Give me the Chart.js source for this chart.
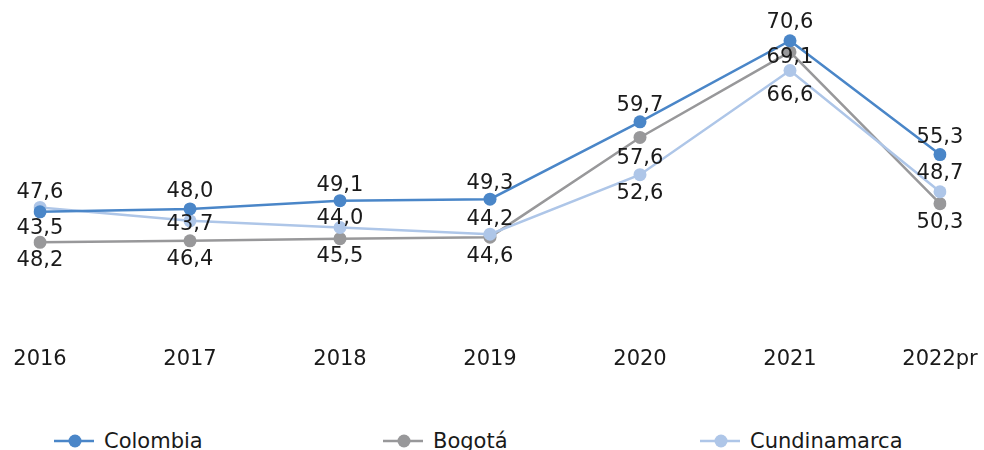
<!DOCTYPE html>
<html>
<head>
<meta charset="utf-8">
<script src="https://cdn.jsdelivr.net/npm/chart.js@4/dist/chart.umd.min.js"></script>
<style>
  html, body { margin: 0; padding: 0; background: #fff; }
  body { width: 984px; height: 450px; position: relative; overflow: hidden; font-family: "DejaVu Sans", sans-serif; }
  #wrap { position: absolute; left: 0; top: 0; width: 984px; height: 400px; }
  .legend-item { position: absolute; top: 428px; height: 26px; display: flex; align-items: center; font-size: 21px; color: #1a1a1a; }
  .legend-item svg { margin-right: 10px; }
</style>
</head>
<body>
<div id="wrap"><canvas id="chart"></canvas></div>
<div id="legend"></div>
<script>
// ---- data ----
const years = ['2016', '2017', '2018', '2019', '2020', '2021', '2022pr'];
const colombia = [47.6, 48.0, 49.1, 49.3, 59.7, 70.6, 55.3];
const bogota = [43.5, 43.7, 44.0, 44.2, 57.6, 69.1, 48.7];
const cundinamarca = [48.2, 46.4, 45.5, 44.6, 52.6, 66.6, 50.3];

const colors = {
  colombia: '#4a86c8',
  bogota: '#98989a',
  cundinamarca: '#aec6e8'
};

// label placement (pixels from the point, negative = above)
const labelShift = [
  [-19, -17, -15, -16, -16, -18, -17],
  [-14, -16, -20, -18, 21, 6, -30],
  [53, 39, 29, 22, 19, 25, 31]
];

const fmt = (v) => v.toFixed(1).replace('.', ',');

const valueLabels = {
  id: 'valueLabels',
  afterDatasetsDraw(chart) {
    const ctx = chart.ctx;
    ctx.save();
    ctx.font = '21px "DejaVu Sans"';
    ctx.fillStyle = '#1a1a1a';
    ctx.textAlign = 'center';
    ctx.textBaseline = 'middle';
    chart.data.datasets.forEach((ds, i) => {
      const meta = chart.getDatasetMeta(i);
      meta.data.forEach((pt, j) => {
        ctx.fillText(fmt(ds.data[j]), pt.x, pt.y + labelShift[i][j]);
      });
    });
    ctx.restore();
  }
};

const series = (label, data, color, order) => ({
  label,
  data,
  borderColor: color,
  backgroundColor: color,
  borderWidth: 2.5,
  pointRadius: 6.5,
  pointBorderWidth: 0,
  pointBackgroundColor: color,
  tension: 0,
  order
});

new Chart(document.getElementById('chart'), {
  type: 'line',
  data: {
    labels: years,
    datasets: [
      series('Colombia', colombia, colors.colombia, 0),
      series('Bogotá', bogota, colors.bogota, 2),
      series('Cundinamarca', cundinamarca, colors.cundinamarca, 1)
    ]
  },
  options: {
    responsive: true,
    maintainAspectRatio: false,
    animation: false,
    layout: { padding: { left: 40, right: 44, top: 8, bottom: 24 } },
    plugins: {
      legend: { display: false },
      tooltip: { enabled: false }
    },
    scales: {
      x: {
        offset: false,
        grid: { display: false, drawTicks: false },
        border: { display: false },
        ticks: { color: '#1a1a1a', padding: 4, maxRotation: 0, font: { family: 'DejaVu Sans', size: 21 } }
      },
      y: {
        display: false,
        min: 30,
        max: 75
      }
    }
  },
  plugins: [valueLabels]
});

// ---- legend ----
const legendItems = [
  { name: 'Colombia', color: colors.colombia, left: 54 },
  { name: 'Bogotá', color: colors.bogota, left: 383 },
  { name: 'Cundinamarca', color: colors.cundinamarca, left: 700 }
];
const legend = document.getElementById('legend');
legendItems.forEach((it) => {
  const el = document.createElement('div');
  el.className = 'legend-item';
  el.style.left = it.left + 'px';
  el.innerHTML =
    '<svg width="40" height="16"><line x1="0" y1="8" x2="40" y2="8" stroke="' + it.color +
    '" stroke-width="2.5"/><circle cx="21" cy="8" r="6.5" fill="' + it.color + '"/></svg>' +
    '<span>' + it.name + '</span>';
  legend.appendChild(el);
});
</script>
</body>
</html>
